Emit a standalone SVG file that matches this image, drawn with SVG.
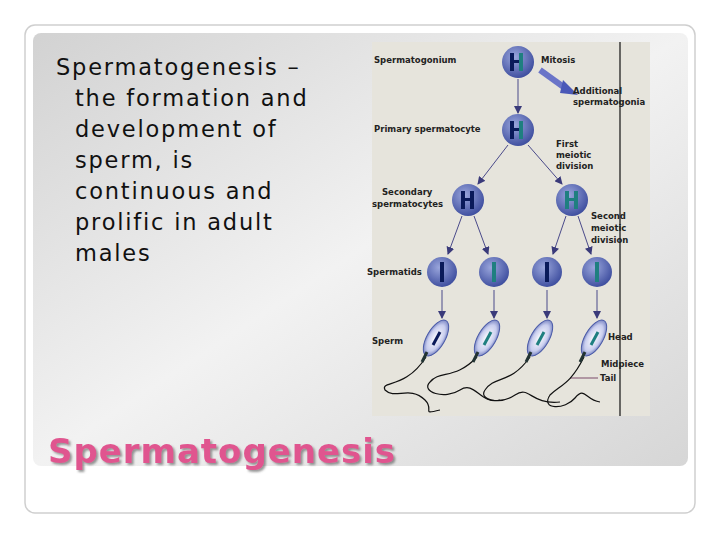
<svg xmlns="http://www.w3.org/2000/svg" width="720" height="540" viewBox="0 0 720 540">
<defs>
<linearGradient id="bg" x1="0" y1="0" x2="1" y2="1"><stop offset="0" stop-color="#d2d2d2"/><stop offset="0.5" stop-color="#f2f2f2"/><stop offset="1" stop-color="#d6d6d6"/></linearGradient>
<radialGradient id="cell" cx="0.4" cy="0.35" r="0.7"><stop offset="0" stop-color="#9aa6dc"/><stop offset="1" stop-color="#3a4a9c"/></radialGradient>
<radialGradient id="head" cx="0.5" cy="0.5" r="0.6"><stop offset="0" stop-color="#ffffff"/><stop offset="0.6" stop-color="#c8cdee"/><stop offset="1" stop-color="#4a5aa8"/></radialGradient>
<marker id="ah" markerWidth="8" markerHeight="8" refX="7" refY="4" orient="auto" markerUnits="userSpaceOnUse"><path d="M0,0 L8,4 L0,8 z" fill="#3a3a7a"/></marker>
<filter id="sh" x="-5%" y="-20%" width="110%" height="140%"><feDropShadow dx="2" dy="2" stdDeviation="0.8" flood-color="#555" flood-opacity="0.6"/></filter>
</defs>
<style>
.lb{font-family:"DejaVu Sans",Verdana,sans-serif;font-size:8.5px;font-weight:bold;fill:#222}
.ar{stroke:#4a4a8a;stroke-width:1;fill:none;marker-end:url(#ah)}
.ch{fill:#0a1a5a}
.cg{fill:#1f7f80}
.tail{fill:none;stroke:#111;stroke-width:1.2}
</style>
<rect width="720" height="540" fill="#fff"/>
<rect x="25" y="25" width="670" height="488" rx="10" fill="#fff" stroke="#cfcfcf" stroke-width="1.5"/>
<rect x="33" y="33" width="655" height="433" rx="8" fill="url(#bg)"/>
<g id="bodytext" font-family="DejaVu Sans,Verdana,sans-serif" font-size="22.5" letter-spacing="1.8" fill="#111">
<text x="56" y="75">Spermatogenesis –</text>
<text x="75" y="106">the formation and</text>
<text x="75" y="137">development of</text>
<text x="75" y="168">sperm, is</text>
<text x="75" y="199">continuous and</text>
<text x="75" y="230">prolific in adult</text>
<text x="75" y="261">males</text>
</g>
<g id="title" font-family="DejaVu Sans,Verdana,sans-serif" font-size="34" font-weight="bold">
<text x="48" y="463" fill="#e0558f" filter="url(#sh)" textLength="347">Spermatogenesis</text>
</g>
<g id="figure">
<rect x="372" y="42" width="278" height="374" fill="#e6e4dc"/>
<line x1="620" y1="42" x2="620" y2="416" stroke="#111" stroke-width="1.2"/>
<g id="connectors">
<line class="ar" x1="518" y1="79" x2="518" y2="113"/>
<path d="M540,70 L565,88" stroke="#6a74c8" stroke-width="6" fill="none"/>
<path d="M563,80 L578,95 L560,93 z" fill="#4a58b8"/>
<line class="ar" x1="508" y1="145" x2="478" y2="184"/>
<line class="ar" x1="528" y1="145" x2="562" y2="184"/>
<line class="ar" x1="462" y1="216" x2="448" y2="254"/>
<line class="ar" x1="474" y1="216" x2="488" y2="254"/>
<line class="ar" x1="566" y1="216" x2="553" y2="254"/>
<line class="ar" x1="578" y1="216" x2="591" y2="254"/>
<line class="ar" x1="442" y1="290" x2="442" y2="318"/>
<line class="ar" x1="494" y1="290" x2="494" y2="318"/>
<line class="ar" x1="547" y1="290" x2="547" y2="318"/>
<line class="ar" x1="597" y1="290" x2="597" y2="318"/>
<line x1="570" y1="378" x2="598" y2="378" stroke="#7a4a6a"/>
</g>
<g id="spermatogonium"><circle cx="518" cy="62" r="16" fill="url(#cell)"/><rect x="510" y="53" width="4" height="18" class="ch"/><rect x="514" y="60" width="6" height="3" class="ch"/><rect x="519" y="53" width="4" height="18" class="cg"/></g>
<g id="primary"><circle cx="518" cy="130" r="16" fill="url(#cell)"/><rect x="510" y="121" width="4" height="18" class="ch"/><rect x="514" y="128" width="6" height="3" class="ch"/><rect x="519" y="121" width="4" height="18" class="cg"/></g>
<g id="sec1"><circle cx="468" cy="200" r="16" fill="url(#cell)"/><rect x="461" y="191" width="4" height="18" class="ch"/><rect x="465" y="198" width="5" height="3" class="ch"/><rect x="470" y="191" width="4" height="18" class="ch"/></g>
<g id="sec2"><circle cx="572" cy="200" r="16" fill="url(#cell)"/><rect x="565" y="191" width="4" height="18" class="cg"/><rect x="569" y="198" width="5" height="3" class="cg"/><rect x="574" y="191" width="4" height="18" class="cg"/></g>
<g id="spermatid1"><circle cx="442" cy="272" r="15" fill="url(#cell)"/><rect x="440" y="262" width="4" height="20" class="ch"/></g>
<g id="spermatid2"><circle cx="494" cy="272" r="15" fill="url(#cell)"/><rect x="492" y="262" width="4" height="20" class="cg"/></g>
<g id="spermatid3"><circle cx="547" cy="272" r="15" fill="url(#cell)"/><rect x="545" y="262" width="4" height="20" class="ch"/></g>
<g id="spermatid4"><circle cx="597" cy="272" r="15" fill="url(#cell)"/><rect x="595" y="262" width="4" height="20" class="cg"/></g>
<g id="sperm1"><path class="tail" d="M426,357 C405,390 380,380 385,390 C395,400 410,385 425,400 C435,410 420,415 440,410"/><ellipse cx="436" cy="338" rx="9" ry="20" transform="rotate(30 436 338)" fill="url(#head)" stroke="#4a5aa8"/><line x1="427" y1="352" x2="422" y2="362" stroke="#233" stroke-width="3"/><line x1="433" y1="345" x2="440" y2="332" stroke="#0a1a5a" stroke-width="3"/></g>
<g id="sperm2"><path class="tail" d="M477,357 C455,380 440,370 430,382 C420,392 445,400 460,390 C475,380 480,405 500,400"/><ellipse cx="487" cy="338" rx="9" ry="20" transform="rotate(30 487 338)" fill="url(#head)" stroke="#4a5aa8"/><line x1="478" y1="352" x2="473" y2="362" stroke="#233" stroke-width="3"/><line x1="484" y1="345" x2="491" y2="332" stroke="#1f7f80" stroke-width="3"/></g>
<g id="sperm3"><path class="tail" d="M530,357 C510,385 495,375 485,390 C478,400 500,405 515,395 C530,385 530,405 560,402"/><ellipse cx="540" cy="338" rx="9" ry="20" transform="rotate(30 540 338)" fill="url(#head)" stroke="#4a5aa8"/><line x1="531" y1="352" x2="526" y2="362" stroke="#233" stroke-width="3"/><line x1="537" y1="345" x2="544" y2="332" stroke="#1f7f80" stroke-width="3"/></g>
<g id="sperm4"><path class="tail" d="M584,357 C570,385 560,385 550,395 C540,410 565,410 575,398 C585,386 585,400 600,402"/><ellipse cx="594" cy="338" rx="9" ry="20" transform="rotate(30 594 338)" fill="url(#head)" stroke="#4a5aa8"/><line x1="585" y1="352" x2="580" y2="362" stroke="#233" stroke-width="3"/><line x1="591" y1="345" x2="598" y2="332" stroke="#1f7f80" stroke-width="3"/></g>
<g id="labels">
<text class="lb" x="374" y="63">Spermatogonium</text>
<text class="lb" x="541" y="63">Mitosis</text>
<text class="lb" x="573" y="94">Additional</text>
<text class="lb" x="573" y="105">spermatogonia</text>
<text class="lb" x="374" y="132">Primary spermatocyte</text>
<text class="lb" x="556" y="147">First</text>
<text class="lb" x="556" y="158">meiotic</text>
<text class="lb" x="556" y="169">division</text>
<text class="lb" x="382" y="195">Secondary</text>
<text class="lb" x="372" y="207">spermatocytes</text>
<text class="lb" x="591" y="219">Second</text>
<text class="lb" x="591" y="231">meiotic</text>
<text class="lb" x="591" y="243">division</text>
<text class="lb" x="367" y="275">Spermatids</text>
<text class="lb" x="372" y="344">Sperm</text>
<text class="lb" x="608" y="340">Head</text>
<text class="lb" x="601" y="367">Midpiece</text>
<text class="lb" x="600" y="381">Tail</text>
</g>
</g>
</svg>
